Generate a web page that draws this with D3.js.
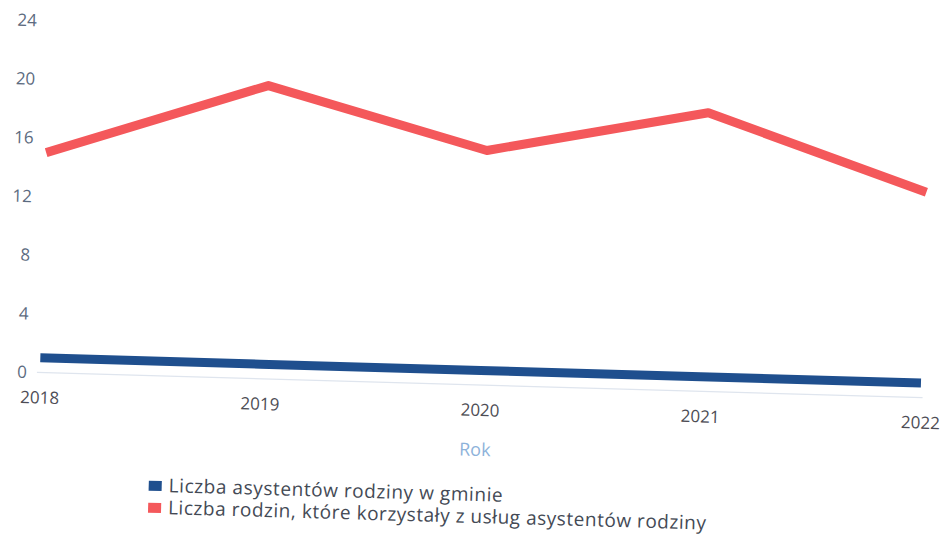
<!DOCTYPE html>
<html>
<head>
<meta charset="utf-8">
<script src="https://cdn.jsdelivr.net/npm/d3@7"></script>
<style>
  body { margin: 0; background: #fff; }
  svg { display: block; font-family: "Open Sans", sans-serif; }
</style>
</head>
<body>
<script>
// data
var years = ["2018", "2019", "2020", "2021", "2022"];
var asystenci = [1, 1, 1, 1, 1];
var rodziny = [15, 20, 16, 19, 14];
var yTicks = [0, 4, 8, 12, 16, 20, 24];
var seriesNames = ["Liczba asystentów rodziny w gminie", "Liczba rodzin, które korzystały z usług asystentów rodziny"];
var seriesColors = ["#1f4f8e", "#f4585b"];
var legendWidths = [334, 538];

var width = 943, height = 541;

var svg = d3.select("body").append("svg")
    .attr("width", width)
    .attr("height", height);

// the scan is slightly tilted, so the whole chart is rotated a bit
var g = svg.append("g")
    .attr("transform", "rotate(1.63,480,270)");

var x = d3.scalePoint()
    .domain(years)
    .range([43, 924]);

var y = d3.scaleLinear()
    .domain([0, 24])
    .range([385, 33]);

// zero line
g.append("line")
    .attr("x1", 40)
    .attr("x2", 926)
    .attr("y1", y(0))
    .attr("y2", y(0))
    .style("stroke", "#dfe5ee")
    .style("stroke-width", 1.2);

// y axis
var yAxis = g.append("g")
    .attr("transform", "translate(43,0)")
    .call(d3.axisLeft(y).tickValues(yTicks).tickSize(0).tickPadding(13));
yAxis.select(".domain").remove();
yAxis.selectAll("text")
    .style("font-family", "Open Sans")
    .style("font-size", "17px")
    .style("fill", "#5c6b80");

// x axis
var xAxis = g.append("g")
    .attr("transform", "translate(0," + y(0) + ")")
    .call(d3.axisBottom(x).tickSize(0).tickPadding(19));
xAxis.select(".domain").remove();
xAxis.selectAll("text")
    .style("font-family", "Open Sans")
    .style("font-size", "17px")
    .style("fill", "#4d4d55");

g.append("text")
    .attr("x", 480)
    .attr("y", 456)
    .style("text-anchor", "middle")
    .style("font-size", "18px")
    .style("fill", "#8db2da")
    .text("Rok");

var line = d3.line()
    .x((d, i) => x(years[i]))
    .y(d => y(d));

[asystenci, rodziny].forEach(function(vals, k) {
    g.append("path")
        .datum(vals)
        .attr("d", line)
        .style("fill", "none")
        .style("stroke", seriesColors[k])
        .style("stroke-width", 9)
        .style("stroke-linejoin", "round");
});

// legend
var legend = g.append("g")
    .attr("transform", "translate(155,490)");
seriesNames.forEach(function(name, i) {
    var row = legend.append("g").attr("transform", "translate(0," + (i * 22) + ")");
    row.append("rect")
        .attr("x", 0)
        .attr("y", 0)
        .attr("width", 13)
        .attr("height", 10)
        .style("fill", seriesColors[i]);
    row.append("text")
        .attr("x", 20)
        .attr("y", 11)
        .attr("textLength", legendWidths[i])
        .attr("lengthAdjust", "spacing")
        .style("font-size", "19px")
        .style("fill", "#444a55")
        .text(name);
});
</script>
</body>
</html>
